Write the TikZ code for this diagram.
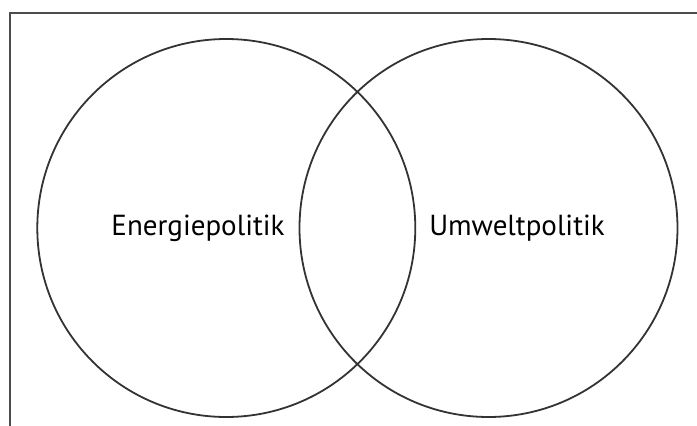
\documentclass[tikz,border=0pt]{standalone}
\usepackage{fontspec}
\setmainfont{PT Sans}
\begin{document}
\begin{tikzpicture}[x=1pt,y=-1pt,
  ring/.style={draw=black!80,line width=1.8pt},
  frame/.style={draw=black!70,line width=2pt},
  lbl/.style={font=\fontsize{29}{33}\selectfont,inner sep=0pt,anchor=base}]
\useasboundingbox (0,0) rectangle (697,426);
\clip (0,0) rectangle (697,426);
\draw[frame] (9.5,12.5) rectangle (720,450);
\coordinate (cl) at (226.3,228);
\coordinate (cr) at (488.5,228);
\draw[ring] (cl) circle[radius=189];
\draw[ring] (cr) circle[radius=189];
\node[lbl] (e) at (198,235) {Energiepolitik};
\node[lbl] (u) at (517,235) {Umweltpolitik};
\end{tikzpicture}
\end{document}
